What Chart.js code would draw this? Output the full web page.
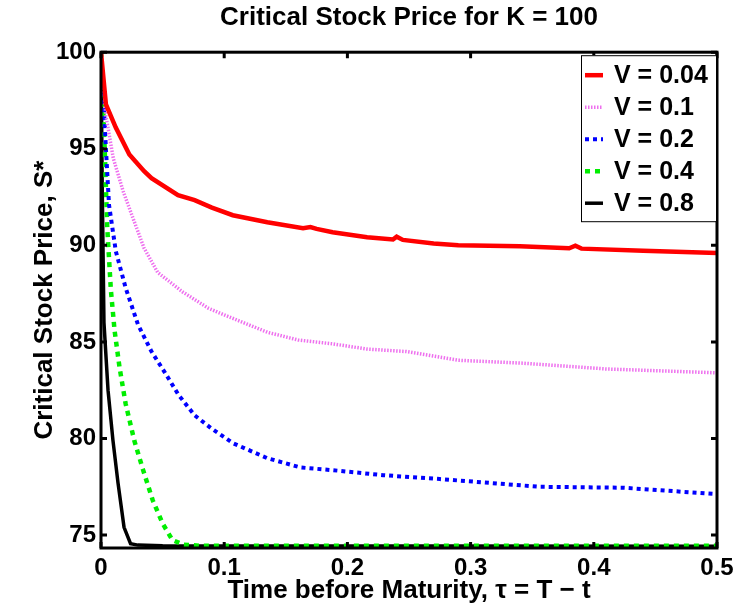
<!DOCTYPE html>
<html>
<head>
<meta charset="utf-8">
<script src="https://cdn.jsdelivr.net/npm/chart.js@4/dist/chart.umd.min.js"></script>
<style>
  html, body { margin: 0; padding: 0; background: #fff; }
  canvas { display: block; }
</style>
</head>
<body>
<canvas id="critChart" width="742" height="606"></canvas>
<script>
// tick labels
const xTicks = [0, 0.1, 0.2, 0.3, 0.4, 0.5];
const yTicks = [75, 80, 85, 90, 95, 100];

// series names
const seriesNames = ['V = 0.04', 'V = 0.1', 'V = 0.2', 'V = 0.4', 'V = 0.8'];

// V = 0.04
const tauA = [0, 0.004, 0.012, 0.023, 0.035, 0.041, 0.0625, 0.076, 0.09, 0.107, 0.135, 0.164, 0.17, 0.175, 0.188, 0.216, 0.237, 0.24, 0.245, 0.27, 0.29, 0.34, 0.38, 0.385, 0.39, 0.44, 0.5];
const priceA = [100, 97.3, 96.1, 94.7, 93.84, 93.48, 92.6, 92.34, 91.95, 91.56, 91.2, 90.89, 90.95, 90.85, 90.68, 90.42, 90.3, 90.45, 90.28, 90.1, 90.0, 89.95, 89.85, 89.98, 89.83, 89.72, 89.6];

// V = 0.1
const tauB = [0, 0.004, 0.01, 0.018, 0.026, 0.035, 0.046, 0.066, 0.087, 0.1, 0.135, 0.16, 0.188, 0.216, 0.248, 0.29, 0.342, 0.41, 0.5];
const priceB = [100, 96.7, 94.5, 92.8, 91.4, 89.85, 88.6, 87.6, 86.75, 86.4, 85.5, 85.1, 84.9, 84.63, 84.5, 84.05, 83.9, 83.6, 83.4];

// V = 0.2
const tauC = [0, 0.004, 0.0065, 0.012, 0.02, 0.03, 0.041, 0.052, 0.063, 0.076, 0.09, 0.107, 0.135, 0.162, 0.188, 0.229, 0.275, 0.356, 0.424, 0.5];
const priceC = [100, 95.0, 92.1, 89.7, 87.8, 85.9, 84.5, 83.4, 82.25, 81.2, 80.5, 79.76, 78.98, 78.5, 78.36, 78.1, 77.9, 77.5, 77.45, 77.12];

// V = 0.4
const tauD = [0, 0.003, 0.005, 0.008, 0.011, 0.015, 0.02, 0.027, 0.034, 0.042, 0.05, 0.058, 0.067, 0.08, 0.5];
const priceD = [100, 95, 91.0, 87.7, 85.6, 83.7, 81.8, 79.9, 78.4, 76.8, 75.6, 74.74, 74.5, 74.45, 74.45];

// V = 0.8
const tauE = [0, 0.001, 0.0024, 0.0057, 0.0097, 0.0138, 0.0187, 0.024, 0.03, 0.05, 0.5];
const priceE = [100, 93, 86.0, 82.5, 79.9, 77.7, 75.4, 74.55, 74.48, 74.45, 74.42];

const toPoints = (xs, ys) => xs.map((x, i) => ({ x: x, y: ys[i] }));

Chart.defaults.font.family = '"Liberation Sans", Arial, sans-serif';
Chart.defaults.font.weight = 'bold';
Chart.defaults.color = '#000';

// axes box with inward tick marks (MATLAB look)
const frameBox = {
    id: 'frameBox',
    afterDatasetsDraw(chart) {
        const { ctx, chartArea: a, scales } = chart;
        ctx.save();
        ctx.strokeStyle = '#000';
        ctx.lineWidth = 3;
        ctx.strokeRect(a.left, a.top, a.right - a.left, a.bottom - a.top);
        const len = 6;
        xTicks.forEach(v => {
            const px = scales.x.getPixelForValue(v);
            ctx.beginPath();
            ctx.moveTo(px, a.bottom); ctx.lineTo(px, a.bottom - len);
            ctx.moveTo(px, a.top); ctx.lineTo(px, a.top + len);
            ctx.stroke();
        });
        yTicks.forEach(v => {
            const py = scales.y.getPixelForValue(v);
            ctx.beginPath();
            ctx.moveTo(a.left, py); ctx.lineTo(a.left + len, py);
            ctx.moveTo(a.right, py); ctx.lineTo(a.right - len, py);
            ctx.stroke();
        });
        ctx.restore();
    }
};

// legend box inside the top right corner
const boxLegend = {
    id: 'boxLegend',
    afterDraw(chart) {
        const { ctx, chartArea: a } = chart;
        const w = 135, rowH = 32, h = 166;
        const left = a.right - 1 - w, top = a.top + 3;
        ctx.save();
        ctx.fillStyle = '#fff';
        ctx.fillRect(left, top, w, h);
        ctx.strokeStyle = '#000';
        ctx.lineWidth = 1;
        ctx.strokeRect(left + 0.5, top + 0.5, w, h);
        chart.data.datasets.forEach((ds, i) => {
            const cy = top + 20 + i * rowH;
            ctx.beginPath();
            ctx.strokeStyle = ds.borderColor;
            ctx.lineWidth = ds.borderWidth;
            ctx.setLineDash(ds.borderDash || []);
            ctx.moveTo(left + 4, cy);
            ctx.lineTo(left + 22, cy);
            ctx.stroke();
            ctx.setLineDash([]);
            ctx.fillStyle = '#000';
            ctx.font = 'bold 25px "Liberation Sans", Arial, sans-serif';
            ctx.textBaseline = 'middle';
            ctx.textAlign = 'left';
            ctx.fillText(ds.label, left + 33, cy + 1);
        });
        ctx.restore();
    }
};

new Chart(document.getElementById('critChart'), {
    type: 'line',
    data: {
        datasets: [
            { label: seriesNames[0], data: toPoints(tauA, priceA), borderColor: '#ff0000', borderWidth: 4.5 },
            { label: seriesNames[1], data: toPoints(tauB, priceB), borderColor: '#ee70ee', borderWidth: 3.5, borderDash: [1.5, 1.5] },
            { label: seriesNames[2], data: toPoints(tauC, priceC), borderColor: '#0000ff', borderWidth: 4, borderDash: [4, 4] },
            { label: seriesNames[3], data: toPoints(tauD, priceD), borderColor: '#00ee00', borderWidth: 4.5, borderDash: [5, 5] },
            { label: seriesNames[4], data: toPoints(tauE, priceE), borderColor: '#000000', borderWidth: 3.5 }
        ]
    },
    options: {
        responsive: false,
        animation: false,
        elements: { point: { radius: 0 }, line: { tension: 0 } },
        layout: { padding: { left: 0, right: 25, top: 0, bottom: 0 } },
        plugins: {
            legend: { display: false },
            tooltip: { enabled: false },
            title: {
                display: true,
                fullSize: false,
                text: 'Critical Stock Price for K = 100',
                font: { size: 26, weight: 'bold' },
                padding: { top: 2, bottom: 19 }
            }
        },
        scales: {
            x: {
                type: 'linear',
                min: 0,
                max: 0.5,
                afterBuildTicks: s => { s.ticks = xTicks.map(v => ({ value: v })); },
                afterFit: s => { s.height = 58; },
                grid: { display: false, drawTicks: false },
                border: { display: false },
                ticks: { font: { size: 24, weight: 'bold' }, padding: 6, maxRotation: 0 },
                title: {
                    display: true,
                    text: 'Time before Maturity, τ = T − t',
                    font: { size: 26, weight: 'bold' },
                    padding: { top: 1, bottom: 0 }
                }
            },
            y: {
                min: 74.33,
                max: 100,
                afterBuildTicks: s => { s.ticks = yTicks.map(v => ({ value: v })); },
                afterFit: s => { s.width = 101; },
                grid: { display: false, drawTicks: false },
                border: { display: false },
                ticks: { font: { size: 24, weight: 'bold' }, padding: 5 },
                title: {
                    display: true,
                    text: 'Critical Stock Price, S*',
                    font: { size: 26, weight: 'bold' },
                    padding: { top: 29, bottom: 0 }
                }
            }
        }
    },
    plugins: [frameBox, boxLegend]
});
</script>
</body>
</html>
